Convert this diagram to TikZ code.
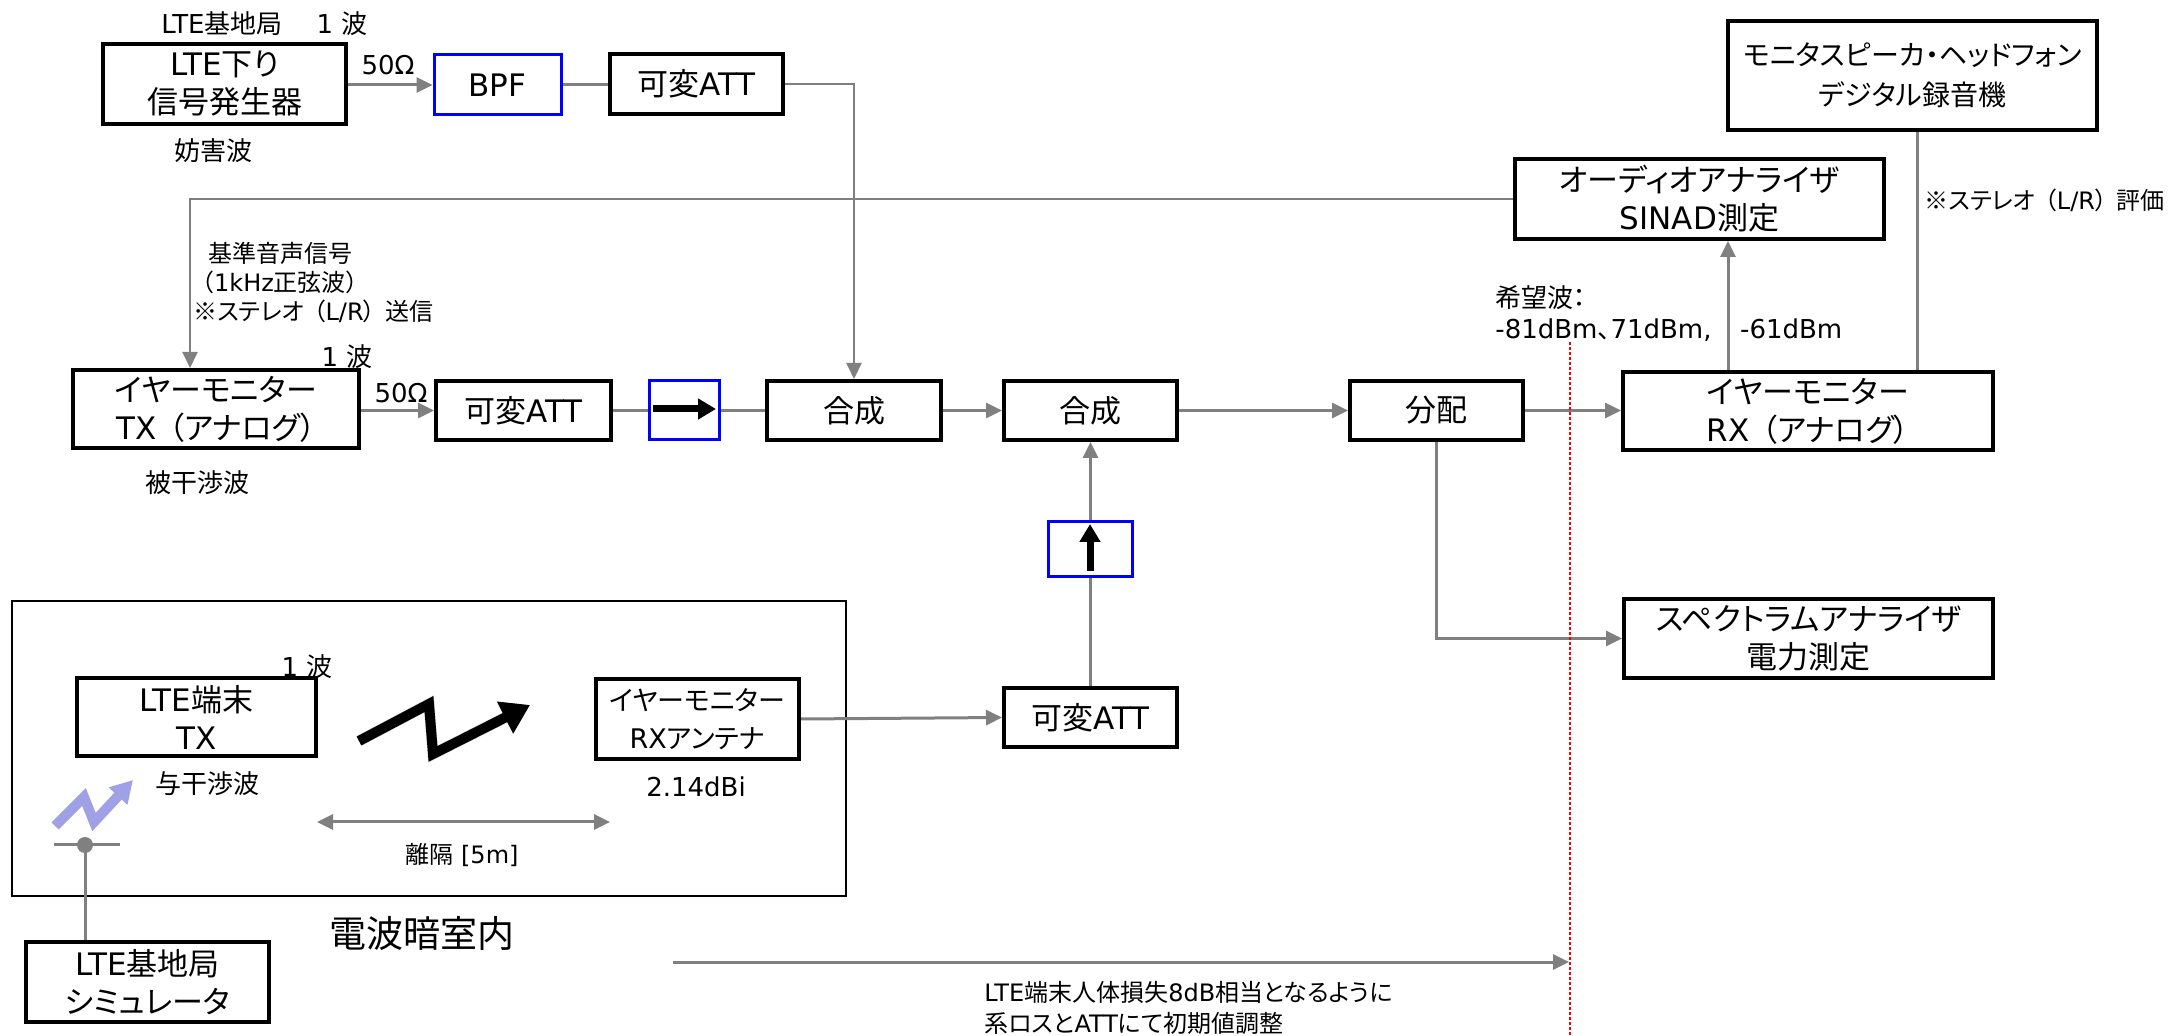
\documentclass[tikz,border=0pt]{standalone}
\usepackage{fontspec}
\setmainfont{DejaVu Sans}
\newfontfamily\lfont{DejaVu Sans}
\newfontfamily\jfont{Noto Sans CJK JP}[RawFeature=+palt]
\newXeTeXintercharclass\jclass
\newcount\jc
\def\jrange#1#2{\jc=#1\relax\loop\XeTeXcharclass\jc=\jclass\relax\ifnum\jc<#2\relax\advance\jc by 1\relax\repeat}
\jrange{"3000}{"30FF}
\jrange{"4E00}{"9FFF}
\jrange{"FF00}{"FFEF}
\XeTeXcharclass"203B=\jclass
\XeTeXinterchartoks 0 \jclass = {\jfont}
\XeTeXinterchartoks 4095 \jclass = {\jfont}
\XeTeXinterchartoks \jclass 0 = {\lfont}
\XeTeXinterchartoks \jclass 4095 = {\lfont}
\XeTeXinterchartokenstate=1
\newcommand\lp{\hspace{.4em}（}
\newcommand\rp{）\hspace{.4em}}
\usetikzlibrary{arrows.meta}
\definecolor{lgray}{RGB}{128,128,128}
\definecolor{boltp}{RGB}{160,160,230}
\tikzset{
  box/.style={draw=black, line width=2pt, fill=white, align=center, inner sep=0pt,
    font=\fontsize{15.5}{19}\selectfont},
  bbox/.style={draw=blue, line width=1.5pt, fill=white, inner sep=0pt},
  conn/.style={draw=lgray, line width=1.5pt},
  connthin/.style={draw=lgray, line width=1pt},
  arr/.style={conn, -{Triangle[length=8pt,width=7.5pt]}},
  arrthin/.style={connthin, -{Triangle[length=8pt,width=7.5pt]}},
  lbl/.style={inner sep=0pt, font=\fontsize{13}{16}\selectfont},
  slbl/.style={inner sep=0pt, font=\fontsize{12}{15}\selectfont},
}
\begin{document}
\begin{tikzpicture}[x=0.5pt,y=-0.5pt]
\useasboundingbox (0,0) rectangle (2169,1036);

% chamber
\draw[black, line width=0.8pt] (12,601) rectangle (846,896);

% boxes
\node[box, minimum width=121.5pt, minimum height=40pt] (sg) at (224.5,84) {LTE下り\\信号発生器};
\node[bbox, minimum width=63.5pt, minimum height=30pt, font=\fontsize{15.5}{19}\selectfont] (bpf) at (497.5,85) {BPF};
\node[box, minimum width=86.5pt, minimum height=30pt] (att1) at (696.5,84) {可変ATT};
\node[box, minimum width=184.5pt, minimum height=54.5pt, font=\fontsize{14}{20}\selectfont] (mon) at (1912.5,75.5) {モニタスピーカ・ヘッドフォン\\デジタル録音機};
\node[box, minimum width=184.5pt, minimum height=40pt] (aa) at (1699.5,199) {オーディオアナライザ\\SINAD測定};
\node[box, minimum width=143pt, minimum height=39pt] (tx) at (216,409) {イヤーモニター\\TX\lp アナログ）};
\node[box, minimum width=87.5pt, minimum height=29.5pt] (att2) at (523.5,410.5) {可変ATT};
\node[bbox, minimum width=35pt, minimum height=29.5pt] (iso1) at (684,410.5) {};
\node[box, minimum width=87pt, minimum height=29.5pt] (comb1) at (854,410.5) {合成};
\node[box, minimum width=86.5pt, minimum height=29.5pt] (comb2) at (1090.5,410.5) {合成};
\node[box, minimum width=86.5pt, minimum height=29.5pt] (div) at (1436.5,410.5) {分配};
\node[box, minimum width=185pt, minimum height=39pt] (rx) at (1808,411) {イヤーモニター\\RX\lp アナログ）};
\node[bbox, minimum width=42pt, minimum height=27.5pt] (iso2) at (1090.5,549.5) {};
\node[box, minimum width=86.5pt, minimum height=29.5pt] (att3) at (1090.5,717.5) {可変ATT};
\node[box, minimum width=184.5pt, minimum height=39.5pt] (sa) at (1808.5,638.5) {スペクトラムアナライザ\\電力測定};
\node[box, minimum width=119.5pt, minimum height=39pt] (ue) at (196.5,717) {LTE端末\\TX};
\node[box, minimum width=101.5pt, minimum height=40pt, font=\fontsize{13.5}{19}\selectfont] (rxant) at (697.5,719) {イヤーモニター\\RXアンテナ};
\node[box, minimum width=121.5pt, minimum height=40pt] (bs) at (147.5,982) {LTE基地局\\シミュレータ};

% isolator arrows
\coordinate (i1a) at (653,409);
\coordinate (i1b) at (716,409);
\draw[black, line width=3.5pt, -{Triangle[length=9pt,width=10pt]}] (i1a) -- (i1b);
\coordinate (i2a) at (1090,571);
\coordinate (i2b) at (1090,524);
\draw[black, line width=3.5pt, -{Triangle[length=9pt,width=10pt]}] (i2a) -- (i2b);

% connectors row 1
\draw[arr] (sg.east |- bpf.west) -- (bpf.west);
\draw[conn] (bpf.east) -- (att1.west |- bpf.east);
\draw[arrthin] (att1.east) -- (att1.east -| comb1.north) -- (comb1.north);

% feedback
\coordinate (fb) at (190,199);
\draw[arrthin] (aa.west) -- (fb) -- (tx.north -| fb);

% row 2
\draw[arr] (tx.east |- att2.west) -- (att2.west);
\draw[conn] (att2.east) -- (iso1.west);
\draw[conn] (iso1.east) -- (comb1.west);
\draw[arr] (comb1.east) -- (comb2.west);
\draw[arr] (comb2.east) -- (div.west);
\draw[arr] (div.east) -- (rx.west |- div.east);
\coordinate (aax) at (1728,0);
\draw[arr] (rx.north -| aax) -- (aa.south -| aax);
\coordinate (monx) at (1917,0);
\draw[conn] (mon.south -| monx) -- (rx.north -| monx);
\draw[arr] (div.south) |- (sa.west);

% vertical chain
\draw[arr] (iso2.north) -- (comb2.south);
\draw[conn] (att3.north) -- (iso2.south);
\draw[arr] (rxant.east) -- (att3.west);

% antenna and base station
\coordinate (antl) at (54,845);
\coordinate (antr) at (120,845);
\coordinate (dot) at (85,845);
\draw[conn] (antl) -- (antr);
\draw[conn] (dot) -- (bs.north -| dot);
\fill[lgray] (dot) circle[radius=4pt];

% purple bolt
\coordinate (p1) at (55,826);
\coordinate (p2) at (84,797);
\coordinate (p3) at (94,822);
\coordinate (p4) at (133,780);
\draw[boltp, line width=5pt, line join=miter, -{Triangle[length=11pt,width=12pt]}] (p1) -- (p2) -- (p3) -- (p4);

% black bolt with shadow
\coordinate (b1) at (359,741);
\coordinate (b2) at (429,704);
\coordinate (b3) at (433,754);
\coordinate (b4) at (530,705);
\begin{scope}[shift={(4,6)}]
\draw[black, opacity=0.18, line width=5.5pt, line join=miter, -{Triangle[length=14pt,width=17pt]}] (b1) -- (b2) -- (b3) -- (b4);
\end{scope}
\draw[black, line width=5pt, line join=miter, -{Triangle[length=14pt,width=17pt]}] (b1) -- (b2) -- (b3) -- (b4);

% double arrow
\coordinate (da) at (317,822);
\coordinate (db) at (610,822);
\draw[conn, {Triangle[length=8pt,width=7.5pt]}-{Triangle[length=8pt,width=7.5pt]}] (da) -- (db);

% bottom arrow
\coordinate (ba) at (673,962);
\coordinate (bb) at (1569,962);
\draw[arr] (ba) -- (bb);

% red dotted
\coordinate (ra) at (1570,342);
\coordinate (rb) at (1570,1036);
\draw[red, line width=0.8pt, dash pattern=on 1.5pt off 1pt] (ra) -- (rb);

% labels
\node[lbl] (l1) at (222,24) {LTE基地局};
\node[lbl] (l2) at (342,24) {1 波};
\node[lbl] (l3) at (388,65) {50Ω};
\node[lbl] (l4) at (213,151) {妨害波};
\node[slbl] (l5) at (280,253) {基準音声信号};
\node[slbl] (l6) at (280,282) {（1kHz正弦波）};
\node[slbl, anchor=west] (l7) at (193,311) {※ステレオ\lp L/R\rp 送信};
\node[lbl] (l8) at (347,357) {1 波};
\node[lbl] (l9) at (401,393) {50Ω};
\node[lbl] (l10) at (197,483) {被干渉波};
\node[lbl, anchor=west] (l11) at (1495,298) {希望波：};
\node[lbl, anchor=west] (l12) at (1495,330) {-81dBm、71dBm,\hspace{1.1em}-61dBm};
\node[lbl, anchor=east, font=\fontsize{12}{15}\selectfont] (l13) at (2165,200) {※ステレオ\lp L/R\rp 評価};
\node[lbl] (l14) at (307,667) {1 波};
\node[lbl] (l15) at (207,784) {与干渉波};
\node[lbl] (l16) at (696,787) {2.14dBi};
\node[slbl] (l17) at (462,855) {離隔 [5m]};
\node[inner sep=0pt, font=\fontsize{18.5}{22}\selectfont] (l18) at (422,933) {電波暗室内};
\node[slbl, anchor=west] (l19) at (984,992) {LTE端末人体損失8dB相当となるように};
\node[slbl, anchor=west] (l20) at (984,1023) {系ロスとATTにて初期値調整};
\end{tikzpicture}
\end{document}
